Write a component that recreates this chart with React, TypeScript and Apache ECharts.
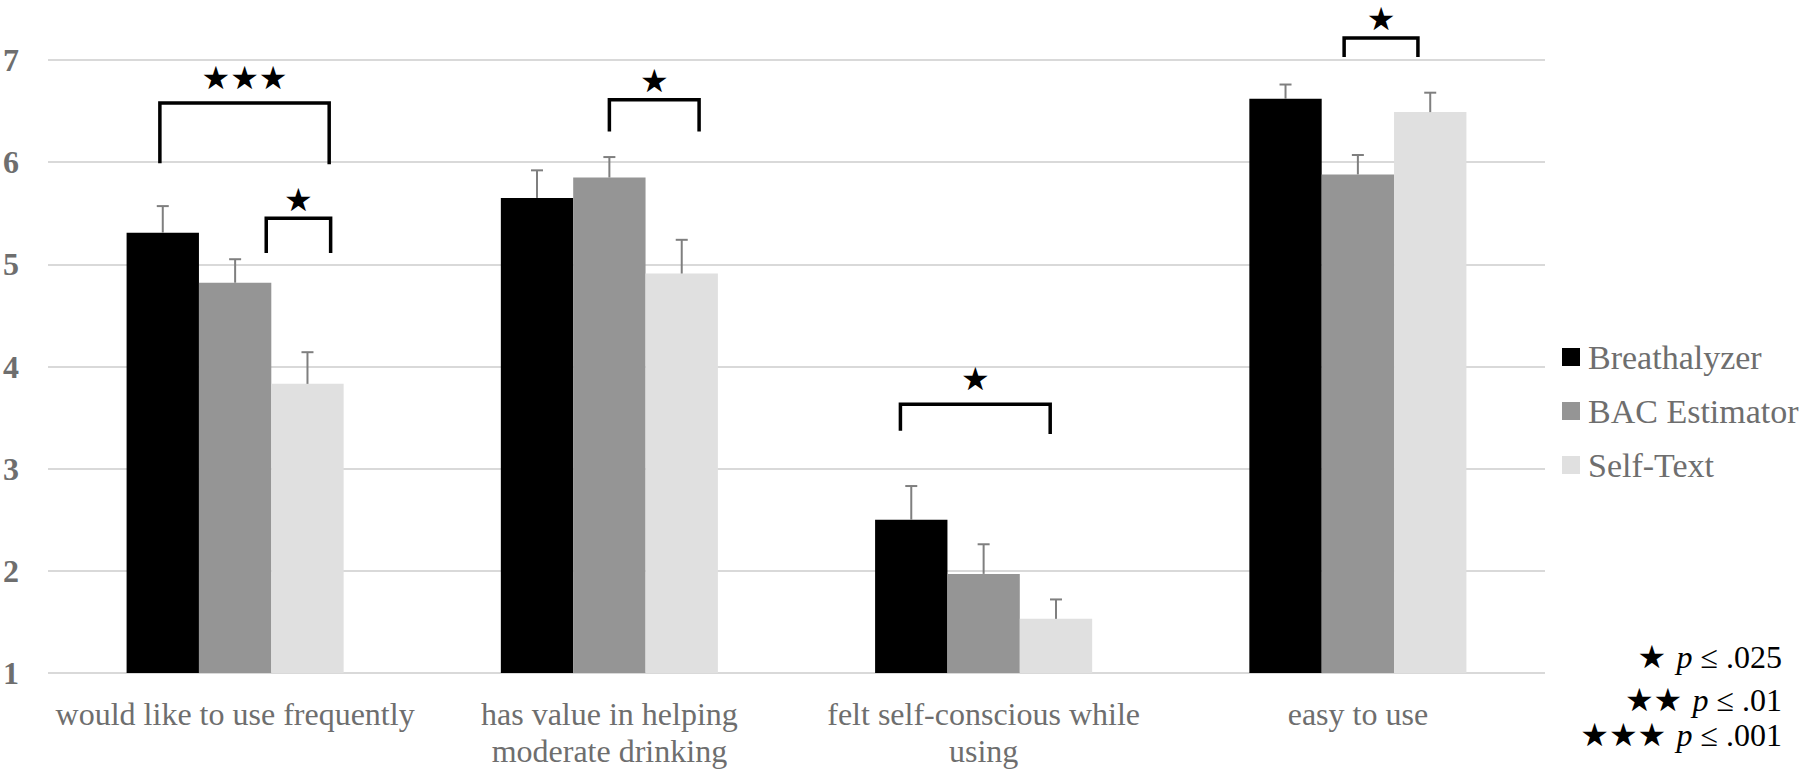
import React, { useEffect, useRef } from "react";
import * as echarts from "echarts";

const categories = [
  "would like to use frequently",
  "has value in helping\nmoderate drinking",
  "felt self-conscious while\nusing",
  "easy to use",
];
const seriesNames = ["Breathalyzer", "BAC Estimator", "Self-Text"];
const breathalyzer = [5.31, 5.65, 2.5, 6.62];
const bacEstimator = [4.82, 5.85, 1.97, 5.88];
const selfText = [3.83, 4.91, 1.53, 6.49];
const breathalyzerSE = [0.26, 0.27, 0.33, 0.14];
const bacEstimatorSE = [0.23, 0.2, 0.29, 0.19];
const selfTextSE = [0.31, 0.33, 0.19, 0.19];
const yTicks = [1, 2, 3, 4, 5, 6, 7];

// significance brackets: [category, leftOffset(bars), rightOffset(bars), topValue, leftBottom, rightBottom, starValue]
const brackets = [
  [0, -1.04, 1.3, 6.58, 5.99, 5.98, 6.82],
  [0, 0.43, 1.32, 5.45, 5.11, 5.11, 5.63],
  [1, 0.0, 1.24, 6.61, 6.3, 6.3, 6.79],
  [2, -1.15, 0.92, 3.63, 3.37, 3.34, 3.88],
  [3, -0.19, 0.83, 7.215, 7.03, 7.03, 7.4],
];
const bracketStars = ["★★★", "★", "★", "★", "★"];

const sigLegend = [
  { stars: "★", text: "≤ .025" },
  { stars: "★★", text: "≤ .01" },
  { stars: "★★★", text: "≤ .001" },
];

const colors = ["#000000", "#959595", "#e0e0e0"];
const labelColor = "#6e6e6e";
const serif = "'Liberation Serif', 'Times New Roman', serif";
const CAT_GAP = 0.42;

export default function App() {
  const ref = useRef<HTMLDivElement>(null);
  useEffect(() => {
    if (!ref.current) return;
    const chart = echarts.init(ref.current, undefined, { renderer: "svg" });
    const means = [breathalyzer, bacEstimator, selfText];
    const ses = [breathalyzerSE, bacEstimatorSE, selfTextSE];
    const errData: number[][] = [];
    means.forEach((arr, s) =>
      arr.forEach((v, c) => errData.push([c, s, v, v + ses[s][c]]))
    );

    const barSeries = seriesNames.map((name, i) => ({
      name,
      type: "bar",
      data: means[i],
      barGap: "0%",
      barCategoryGap: "42%",
      itemStyle: { color: colors[i] },
      z: 2,
    }));

    chart.setOption({
      animation: false,
      grid: { left: 45, right: 255, top: 60, bottom: 95 },
      legend: {
        data: seriesNames,
        orient: "vertical",
        left: 1562,
        top: 339,
        padding: 0,
        itemWidth: 18,
        itemHeight: 18,
        itemGap: 18,
        icon: "rect",
        textStyle: {
          fontFamily: serif,
          fontSize: 34,
          lineHeight: 36,
          color: labelColor,
          padding: [0, 0, 0, 3],
        },
      },
      xAxis: {
        type: "category",
        data: categories,
        axisLine: { show: false },
        axisTick: { show: false },
        axisLabel: {
          fontFamily: serif,
          fontSize: 32,
          lineHeight: 37,
          color: labelColor,
          margin: 22,
          interval: 0,
        },
      },
      yAxis: {
        type: "value",
        min: yTicks[0],
        max: yTicks[yTicks.length - 1],
        interval: 1,
        axisLine: { show: false },
        axisTick: { show: false },
        splitLine: { lineStyle: { color: "#d9d9d9", width: 2 } },
        axisLabel: {
          fontFamily: serif,
          fontSize: 32,
          fontWeight: "bold",
          color: labelColor,
          margin: 29,
        },
      },
      series: [
        ...barSeries,
        {
          type: "custom",
          name: "err",
          data: errData,
          z: 3,
          clip: false,
          silent: true,
          renderItem: (params: any, api: any) => {
            const c = api.value(0);
            const s = api.value(1);
            const band = api.size([1, 0])[0];
            const barW = (band * (1 - CAT_GAP)) / 3;
            const base = api.coord([c, api.value(2)]);
            const top = api.coord([c, api.value(3)]);
            const x = base[0] + (s - 1) * barW;
            const style = { stroke: "#7f7f7f", lineWidth: 2 };
            return {
              type: "group",
              children: [
                { type: "line", shape: { x1: x, y1: base[1], x2: x, y2: top[1] }, style },
                { type: "line", shape: { x1: x - 6, y1: top[1], x2: x + 6, y2: top[1] }, style },
              ],
            };
          },
        },
        {
          type: "custom",
          name: "sig",
          data: brackets,
          z: 4,
          clip: false,
          silent: true,
          renderItem: (params: any, api: any) => {
            const c = api.value(0);
            const band = api.size([1, 0])[0];
            const barW = (band * (1 - CAT_GAP)) / 3;
            const center = api.coord([c, api.value(3)]);
            const xl = center[0] + api.value(1) * barW;
            const xr = center[0] + api.value(2) * barW;
            const yt = center[1];
            const ylb = api.coord([c, api.value(4)])[1];
            const yrb = api.coord([c, api.value(5)])[1];
            const ys = api.coord([c, api.value(6)])[1];
            return {
              type: "group",
              children: [
                {
                  type: "polyline",
                  shape: { points: [[xl, ylb], [xl, yt], [xr, yt], [xr, yrb]] },
                  style: { stroke: "#000", lineWidth: 3.5, fill: null },
                },
                {
                  type: "text",
                  style: {
                    text: bracketStars[params.dataIndex],
                    x: (xl + xr) / 2,
                    y: ys,
                    align: "center",
                    verticalAlign: "middle",
                    fontFamily: "'DejaVu Sans'",
                    fontSize: 32,
                    lineHeight: 30,
                    fill: "#000",
                  },
                },
              ],
            };
          },
        },
      ],
      graphic: sigLegend.map((row, i) => ({
        type: "text",
        right: 18,
        top: [641, 684, 719][i],
        style: {
          text: `{s|${row.stars} }{p|p }{n|${row.text}}`,
          rich: {
            s: { fontFamily: "'DejaVu Sans'", fontSize: 32, lineHeight: 32, fill: "#000" },
            p: { fontFamily: serif, fontStyle: "italic", fontSize: 32, lineHeight: 32, fill: "#000" },
            n: { fontFamily: serif, fontSize: 32, lineHeight: 32, fill: "#000" },
          },
        },
      })),
    });
    return () => chart.dispose();
  }, []);
  return (
    <div
      ref={ref}
      style={{ position: "fixed", left: 0, top: 0, width: 1800, height: 769, background: "#fff" }}
    />
  );
}
